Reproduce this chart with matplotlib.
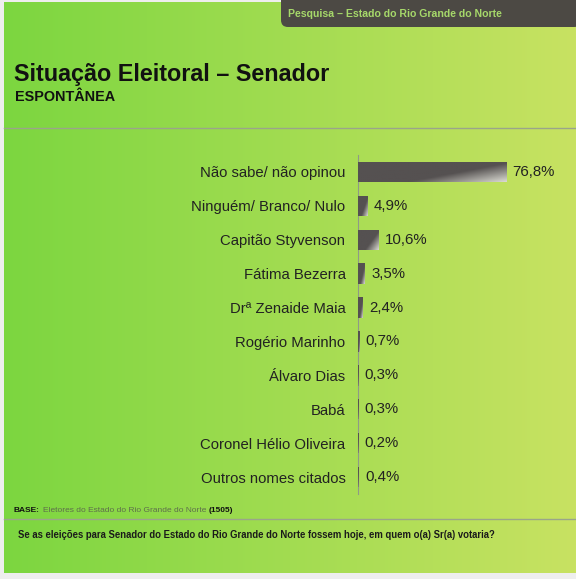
import numpy as np
import matplotlib
matplotlib.use("Agg")
import matplotlib.pyplot as plt
from matplotlib.patches import FancyBboxPatch

plt.rcParams['font.family'] = ['Liberation Sans', 'DejaVu Sans']

categories = ["Não sabe/ não opinou", "Ninguém/ Branco/ Nulo", "Capitão Styvenson",
              "Fátima Bezerra", "Drª Zenaide Maia", "Rogério Marinho", "Álvaro Dias",
              "Babá", "Coronel Hélio Oliveira", "Outros nomes citados"]
values = [76.8, 4.9, 10.6, 3.5, 2.4, 0.7, 0.3, 0.3, 0.2, 0.4]
value_labels = ["76,8%", "4,9%", "10,6%", "3,5%", "2,4%", "0,7%", "0,3%", "0,3%", "0,2%", "0,4%"]

W, H = 576, 579
fig = plt.figure(figsize=(W / 100, H / 100), dpi=100)
fig.patch.set_facecolor("#eeeeee")

def fx(px):
    return px / W

def fy(py):
    return 1 - py / H

# background gradient panel
bg = fig.add_axes([fx(4), fy(573), fx(572), 571 / H], zorder=0)
grad = np.linspace(0, 1, 256)
c0 = np.array([0x7c, 0xd6, 0x40]) / 255
c1 = np.array([0xc8, 0xe2, 0x62]) / 255
img = c0[None, None, :] * (1 - grad[None, :, None]) + c1[None, None, :] * grad[None, :, None]
img = np.repeat(img, 2, axis=0)
bg.imshow(img, aspect="auto", extent=[0, 1, 0, 1])
bg.set_xlim(0, 1)
bg.set_ylim(0, 1)
bg.axis("off")

# header bar
hdr = FancyBboxPatch((fx(281), fy(27)), fx(300), 40 / H,
                     boxstyle="round,pad=0,rounding_size=0.012",
                     transform=fig.transFigure, facecolor="#4c4944", edgecolor="none", zorder=2)
fig.patches.append(hdr)
fig.text(fx(288), fy(14), "Pesquisa – Estado do Rio Grande do Norte", fontsize=7.6,
         fontweight="bold", color="#a6d86a", va="center", ha="left", zorder=3)

# titles
fig.text(fx(14), fy(75), "Situação Eleitoral – Senador", fontsize=16.8, fontweight="bold",
         color="#111111", va="center", ha="left", zorder=3)
fig.text(fx(15), fy(97), "ESPONTÂNEA", fontsize=10.4, fontweight="bold",
         color="#111111", va="center", ha="left", zorder=3)

# separator lines
fig.add_artist(plt.Line2D([fx(4), fx(576)], [fy(128), fy(128)], color="#9aa58a", lw=1.0, zorder=3))
fig.add_artist(plt.Line2D([fx(4), fx(576)], [fy(519), fy(519)], color="#9aa58a", lw=1.0, zorder=3))

# chart axes
ax = fig.add_axes([fx(358), fy(494), fx(212), 339 / H], zorder=4)
ax.patch.set_alpha(0)
y = np.arange(len(categories))
bars = ax.barh(y, values, height=0.6, color="#575353", edgecolor="none", zorder=3)

# subtle gradient highlight on bars
for b in bars:
    x0, y0 = b.get_x(), b.get_y()
    w, h = b.get_width(), b.get_height()
    gx = np.linspace(0, 1, 64)
    gy = np.linspace(0, 1, 16)
    GX, GY = np.meshgrid(gx, gy)
    t = np.clip((GX * 0.85 + GY * 0.6) - 0.9, 0, 1) / 0.55
    base = np.array([0x55, 0x51, 0x51]) / 255
    light = np.array([0xd8, 0xd8, 0xd0]) / 255
    g = base[None, None, :] * (1 - t[..., None]) + light[None, None, :] * t[..., None]
    im = ax.imshow(g, extent=[x0, x0 + w, y0 + h, y0], aspect="auto", zorder=4,
                   interpolation="bilinear")
    im.set_clip_path(b)

ax.set_aspect("auto")
ax.set_xlim(0, 110)
ax.set_ylim(len(categories) - 0.5, -0.5)

for i, (v, lab) in enumerate(zip(values, value_labels)):
    ax.annotate(lab, (v, i), xytext=(4.5, 0), textcoords="offset points",
                va="center", ha="left", fontsize=10.8, color="#222222", zorder=5)

ax.set_yticks(y)
ax.set_yticklabels(categories, fontsize=10.7, color="#222222")
ax.tick_params(axis="y", length=0, pad=9)
ax.set_xticks([])
for s in ["top", "right", "bottom"]:
    ax.spines[s].set_visible(False)
ax.spines["left"].set_color("#8f9a86")
ax.spines["left"].set_linewidth(0.8)

# footer (laid out sequentially)
fig.canvas.draw()
renderer = fig.canvas.get_renderer()
xpos = 14
parts = [("BASE:", "bold", "#111111", 3), ("Eletores do Estado do Rio Grande do Norte", "normal", "#5e6e4c", 2),
         ("(1505)", "bold", "#111111", 0)]
for txt, wt, col, gap in parts:
    t = fig.text(fx(xpos), fy(511), txt, fontsize=6.0, fontweight=wt, color=col,
                 va="center", ha="left", zorder=3)
    bb = t.get_window_extent(renderer)
    xpos += bb.width + gap

fig.text(fx(18), fy(535), "Se as eleições para Senador do Estado do Rio Grande do Norte fossem hoje, em quem o(a) Sr(a) votaria?",
         fontsize=6.85, fontweight="bold", color="#1a1a1a", va="center", ha="left", zorder=3)

fig.savefig("out.png", dpi=100, facecolor=fig.get_facecolor())
